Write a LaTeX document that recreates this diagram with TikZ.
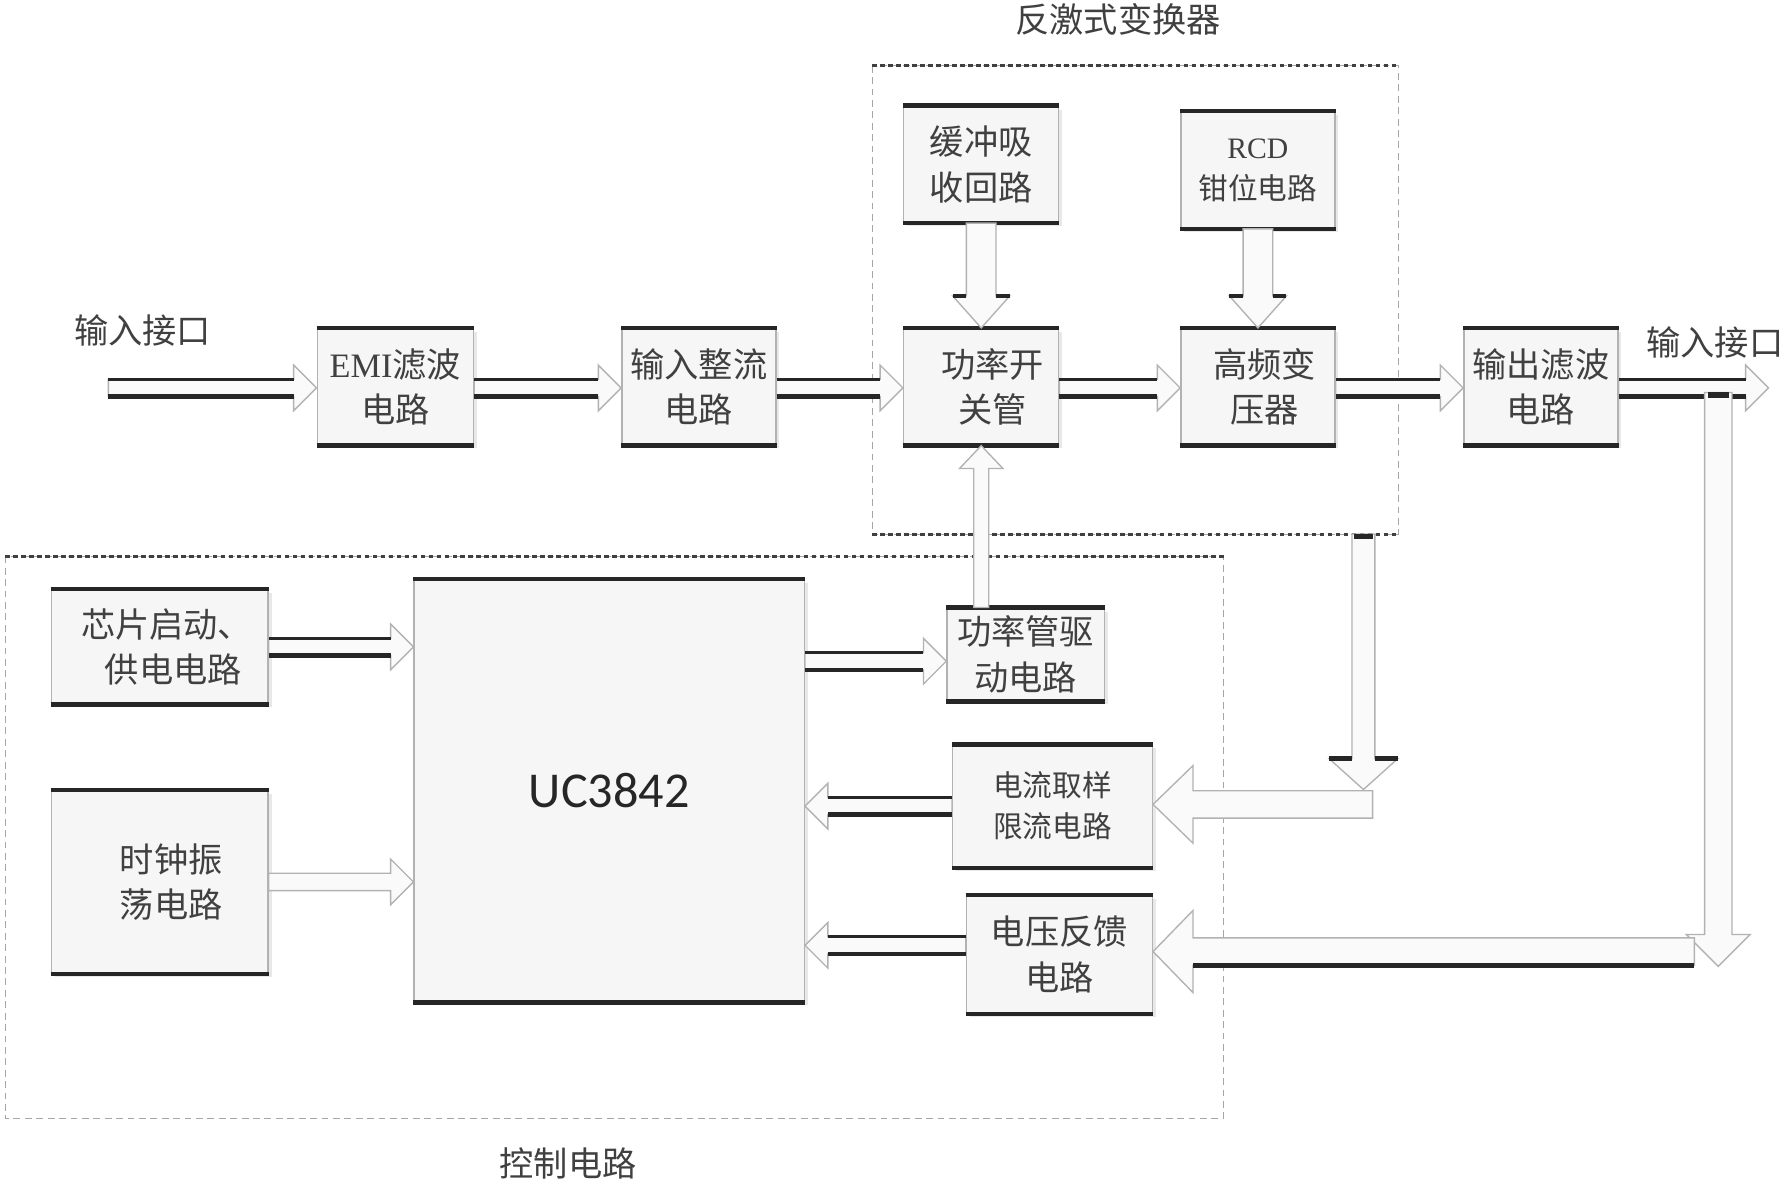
\documentclass[tikz,border=0pt]{standalone}
\usepackage{fontspec}
\setmainfont{Liberation Serif}
\newfontfamily\cjk{Noto Sans CJK SC}
\newfontfamily\lat{Liberation Serif}
\newfontfamily\ucfont{Carlito}
\usetikzlibrary{calc,shadows}

\tikzset{
  blk/.style={draw=gray!60, fill=gray!7, line width=0.6pt, inner sep=0pt, align=center,
    font=\cjk\fontsize{15}{20}\selectfont, text=black!75,
    drop shadow={opacity=0.18, shadow xshift=1.5pt, shadow yshift=-1.5pt}},
  smalltxt/.style={font=\cjk\fontsize{13}{18}\selectfont},
  lbl/.style={font=\cjk\fontsize{15}{18}\selectfont, text=black!75, inner sep=0pt},
  arrbody/.style={fill=gray!4, draw=gray!60, line width=0.6pt, line join=miter},
  darkedge/.style={draw=black!85, line width=#1},
  contbox/.style={draw=gray!70, line width=0.5pt, dash pattern=on 3pt off 2pt},
  contedge/.style={draw=black!75, line width=1.4pt, dash pattern=on 2pt off 1.5pt},
}

% horizontal block arrow: start, end, shaft half, head half, head length, edges (0 none,1 bottom,2 both)
\newcommand\harr[6]{%
  \path[arrbody] let \p1=#1,\p2=#2,\n1={sign(\x2-\x1)} in
    (\x1,\y1+#3) -- (\x2-\n1*#5,\y1+#3) -- (\x2-\n1*#5,\y1+#4) -- (\x2,\y1)
    -- (\x2-\n1*#5,\y1-#4) -- (\x2-\n1*#5,\y1-#3) -- (\x1,\y1-#3) -- cycle;
  \ifnum#6>0
    \path[darkedge=2pt] let \p1=#1,\p2=#2,\n1={sign(\x2-\x1)} in
      (\x1,\y1-#3) -- (\x2-\n1*#5,\y1-#3);
  \fi
  \ifnum#6>1
    \path[darkedge=1.1pt] let \p1=#1,\p2=#2,\n1={sign(\x2-\x1)} in
      (\x1,\y1+#3) -- (\x2-\n1*#5,\y1+#3);
  \fi
}
% vertical block arrow: start, end, shaft half, head half, head length, head bars (0/1)
\newcommand\varr[6]{%
  \path[arrbody] let \p1=#1,\p2=#2,\n1={sign(\y2-\y1)} in
    (\x1+#3,\y1) -- (\x1+#3,\y2-\n1*#5) -- (\x1+#4,\y2-\n1*#5) -- (\x1,\y2)
    -- (\x1-#4,\y2-\n1*#5) -- (\x1-#3,\y2-\n1*#5) -- (\x1-#3,\y1) -- cycle;
  \ifnum#6>0
    \path[darkedge=2pt] let \p1=#1,\p2=#2,\n1={sign(\y2-\y1)} in
      (\x1+#3,\y2-\n1*#5) -- (\x1+#4,\y2-\n1*#5)
      (\x1-#3,\y2-\n1*#5) -- (\x1-#4,\y2-\n1*#5);
  \fi
}

\begin{document}
\begin{tikzpicture}[x=0.5pt,y=-0.5pt]
\useasboundingbox[fill=white] (0,0) rectangle (1568,1040);

% containers
\node[inner sep=0pt, minimum width=230pt, minimum height=205pt] (fly) at (995,263) {};
\draw[contbox] (fly.north west) rectangle (fly.south east);
\draw[contedge] (fly.north west) -- (fly.north east) (fly.south west) -- (fly.south east);
\node[lbl] (flylbl) at (980,17) {反激式变换器};

\node[inner sep=0pt, minimum width=533.5pt, minimum height=246pt] (ctl) at (538.5,734) {};
\draw[contbox] (ctl.north west) rectangle (ctl.south east);
\draw[contedge] (ctl.north west) -- (ctl.north east);
\node[lbl] (ctllbl) at (498,1020) {控制电路};

% boxes
\node[blk, minimum width=68.5pt, minimum height=51pt] (emi) at (346.5,339) {{\lat EMI}滤波\\电路};
\node[blk, minimum width=67.5pt, minimum height=51pt] (rect) at (612.5,339) {输入整流\\电路};
\node[blk, minimum width=68pt, minimum height=51pt] (sw) at (860,339) {\hspace*{10pt}功率开\\\hspace*{10pt}关管};
\node[blk, minimum width=67.5pt, minimum height=51pt] (hf) at (1102.5,339) {\hspace*{6pt}高频变\\\hspace*{6pt}压器};
\node[blk, minimum width=67.5pt, minimum height=51pt] (of) at (1350.5,339) {输出滤波\\电路};
\node[blk, minimum width=68pt, minimum height=51pt] (snub) at (860,144) {缓冲吸\\收回路};
\node[blk, smalltxt, minimum width=67.5pt, minimum height=51pt] (rcd) at (1102.5,149) {{\lat RCD}\\钳位电路};
\node[blk, minimum width=95pt, minimum height=50pt] (chip) at (140,567) {\hspace*{6pt}芯片启动、\\\hspace*{12pt}供电电路};
\node[blk, minimum width=95pt, minimum height=80pt] (clk) at (140,773) {\hspace*{10pt}时钟振\\\hspace*{10pt}荡电路};
\node[blk, minimum width=171pt, minimum height=185pt, font=\ucfont\fontsize{22}{26}\selectfont, text=black!85] (uc) at (534,693) {UC3842};
\node[blk, minimum width=69pt, minimum height=40.5pt] (drv) at (899,573.5) {功率管驱\\动电路};
\node[blk, smalltxt, minimum width=87.5pt, minimum height=53.5pt, align=left] (cs) at (922.5,706.5) {电流取样\\限流电路};
\node[blk, minimum width=81.5pt, minimum height=51.5pt] (vf) at (928.5,836.5) {电压反馈\\电路};

\foreach \n in {emi,rect,sw,hf,of,snub,rcd,chip,clk,uc,drv,cs,vf}{
  \draw[black!85, line width=2pt] (\n.north west) -- (\n.north east) (\n.south west) -- (\n.south east);
}

% labels
\node[lbl] (inlbl) at (125,290) {输入接口};
\node[lbl] (outlbl) at (1503,300) {输入接口};

% main chain
\coordinate (in) at (95,340);
\coordinate (out) at (1550,340);
\harr{(in)}{(emi.west |- in)}{3.8pt}{10pt}{10pt}{2}
\harr{(emi.east |- in)}{(rect.west |- in)}{3.8pt}{10pt}{10pt}{2}
\harr{(rect.east |- in)}{(sw.west |- in)}{3.8pt}{10pt}{10pt}{2}
\harr{(sw.east |- in)}{(hf.west |- in)}{3.8pt}{10pt}{10pt}{2}
\harr{(hf.east |- in)}{(of.west |- in)}{3.8pt}{10pt}{10pt}{2}
\harr{(of.east |- in)}{(out)}{3.8pt}{10pt}{10pt}{2}

% into flyback parts
\varr{(snub.south)}{(sw.north)}{6.5pt}{12.5pt}{14pt}{1}
\varr{(rcd.south)}{(hf.north)}{6.5pt}{12.5pt}{14pt}{1}
\varr{(sw.south |- drv.north)}{(sw.south)}{3.3pt}{9.5pt}{10pt}{0}

% control section
\harr{(chip.east)}{(uc.west |- chip.east)}{3.8pt}{10pt}{10pt}{2}
\harr{(clk.east)}{(uc.west |- clk.east)}{3.8pt}{10pt}{10pt}{0}
\harr{($(uc.east |- drv.west)+(0,6)$)}{($(drv.west)+(0,6)$)}{3.8pt}{10pt}{10pt}{2}
\harr{(cs.west)}{(uc.east |- cs.west)}{3.8pt}{10pt}{10pt}{2}
\harr{($(vf.west)+(0,-8)$)}{($(uc.east |- vf.west)+(0,-8)$)}{3.8pt}{10pt}{10pt}{2}

% current sampling feedback
\coordinate (ca) at (1195,468);
\coordinate (cb) at (1195,692);
\coordinate (cc) at (1203,705);
\varr{(ca)}{(cb)}{5pt}{15pt}{13.5pt}{1}
\harr{(cc)}{(cs.east |- cc)}{6pt}{17pt}{17.5pt}{0}
\fill[black!85] (1187,468) rectangle (1203,472);

% voltage feedback
\coordinate (va) at (1506,344);
\coordinate (vb) at (1506,847);
\coordinate (vc) at (1485,834);
\varr{(va)}{(vb)}{6pt}{14pt}{14pt}{0}
\harr{(vc)}{(vf.east |- vc)}{6pt}{18pt}{17.5pt}{1}
\fill[black!85] (1497,344) rectangle (1515,349);
\end{tikzpicture}
\end{document}
